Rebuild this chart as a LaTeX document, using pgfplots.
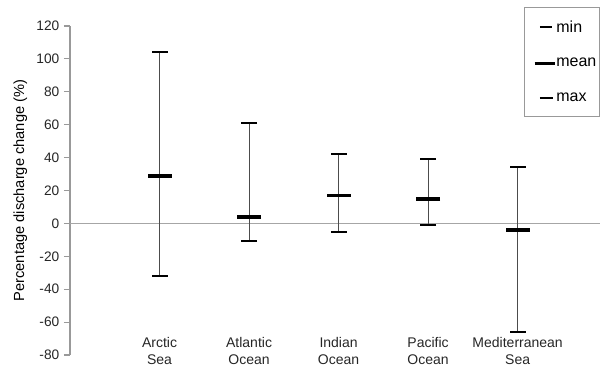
\documentclass[border=0pt]{standalone}
\usepackage{fontspec}
\setmainfont{Liberation Sans}
\usepackage{pgfplots}
\pgfplotsset{compat=1.18}
\begin{document}
\begin{tikzpicture}
\begin{axis}[
  scale only axis, width=397.5pt, height=246.75pt,
  xmin=0, xmax=5.92, ymin=-80, ymax=120,
  axis lines=left, axis line style={-, gray!80, line width=0.8pt},
  x axis line style={draw=none},
  xtick={1,2,3,4,5},
  xticklabels={Arctic\\Sea, Atlantic\\Ocean, Indian\\Ocean, Pacific\\Ocean, Mediterranean\\Sea},
  x tick style={draw=none},
  xticklabel style={align=center, anchor=north, yshift=21pt, font=\fontsize{10.5}{12.75}\selectfont, text=black!85},
  ytick={-80,-60,...,120},
  tick align=outside, major tick length=4.5pt,
  y tick style={gray!80, line width=0.8pt},
  yticklabel style={font=\fontsize{10.3}{12}\selectfont, text=black!85},
  /pgf/number format/assume math mode=true,
  ylabel={Percentage discharge change (\%)},
  ylabel style={font=\fontsize{11}{13}\selectfont},
  unbounded coords=jump,
  legend style={at={(1,1)}, anchor=north east, xshift=0pt, yshift=14.25pt,
    draw=gray!80, fill=white, font=\fontsize{12}{14}\selectfont,
    inner xsep=2pt, inner ysep=8pt, row sep=14pt, column sep=0pt,
    nodes={inner xsep=0.5pt}, cells={anchor=west}},
]
\draw[gray!70, line width=1.1pt] (axis cs:0,0) -- (axis cs:5.92,0);
\addplot[black!70, line width=0.8pt, no marks, forget plot] coordinates {
  (1,-32) (1,104) (1,nan)
  (2,-11) (2,61) (2,nan)
  (3,-5) (3,42) (3,nan)
  (4,-1) (4,39) (4,nan)
  (5,-66) (5,34)
};
\addplot[only marks, mark=-, mark size=6pt, mark options={line width=1.5pt, black},
  legend image code/.code={\path[draw=none, fill=none] (-21pt,0pt) -- (0pt,0pt); \draw[black, line width=1.5pt] (-11pt,0pt) -- (-2pt,0pt);}]
  coordinates {(1,-32) (2,-11) (3,-5) (4,-1) (5,-66)};
\addlegendentry{min}
\addplot[only marks, mark=-, mark size=9pt, mark options={line width=2.8pt, black},
  legend image code/.code={\path[draw=none, fill=none] (-21pt,0pt) -- (0pt,0pt); \draw[black, line width=1.8pt] (-15pt,0pt) -- (0pt,0pt);}]
  coordinates {(1,29) (2,4) (3,17) (4,15) (5,-4)};
\addlegendentry{mean}
\addplot[only marks, mark=-, mark size=6pt, mark options={line width=1.5pt, black},
  legend image code/.code={\path[draw=none, fill=none] (-21pt,0pt) -- (0pt,0pt); \draw[black, line width=1.6pt] (-11pt,0pt) -- (-1.5pt,0pt);}]
  coordinates {(1,104) (2,61) (3,42) (4,39) (5,34)};
\addlegendentry{max}
\coordinate (bl) at (rel axis cs:0,0);
\coordinate (tr) at (rel axis cs:1,1);
\end{axis}
\pgfresetboundingbox
\path ([shift={(-52.5pt,-8.25pt)}]bl) rectangle ([shift={(0pt,19.5pt)}]tr);
\end{tikzpicture}
\end{document}
